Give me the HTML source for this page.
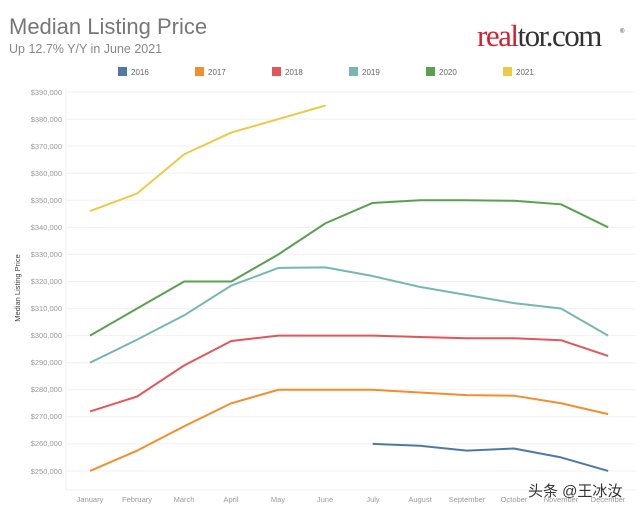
<!DOCTYPE html>
<html><head><meta charset="utf-8"><style>
body{margin:0;background:#fff;width:640px;height:512px;overflow:hidden;font-family:"Liberation Sans",sans-serif}
</style></head><body>
<svg width="640" height="512" xmlns="http://www.w3.org/2000/svg" font-family="Liberation Sans, sans-serif">
<text x="9" y="34" font-size="22" fill="#777">Median Listing Price</text>
<text x="9" y="53" font-size="12.5" fill="#888">Up 12.7% Y/Y in June 2021</text>
<text x="477" y="46" font-size="31" font-family="Liberation Serif, serif" fill="#d6202f" letter-spacing="-1.5">real<tspan fill="#333">tor.com</tspan></text>
<text x="620" y="33" font-size="6" fill="#333">®</text>
<g font-size="8" fill="#666">
<rect x="118" y="67" width="9" height="9" fill="#4e79a7"/><text x="131" y="75">2016</text>
<rect x="195" y="67" width="9" height="9" fill="#f28e2b"/><text x="208" y="75">2017</text>
<rect x="272" y="67" width="9" height="9" fill="#e15759"/><text x="285" y="75">2018</text>
<rect x="349" y="67" width="9" height="9" fill="#76b7b2"/><text x="362" y="75">2019</text>
<rect x="426" y="67" width="9" height="9" fill="#59a14f"/><text x="439" y="75">2020</text>
<rect x="503" y="67" width="9" height="9" fill="#edc948"/><text x="516" y="75">2021</text>
</g>
<g stroke="#f0f0f0" stroke-width="1">
<line x1="66" x2="636" y1="92" y2="92"/><line x1="66" x2="636" y1="119.1" y2="119.1"/><line x1="66" x2="636" y1="146.1" y2="146.1"/><line x1="66" x2="636" y1="173.2" y2="173.2"/><line x1="66" x2="636" y1="200.3" y2="200.3"/><line x1="66" x2="636" y1="227.4" y2="227.4"/><line x1="66" x2="636" y1="254.4" y2="254.4"/><line x1="66" x2="636" y1="281.5" y2="281.5"/><line x1="66" x2="636" y1="308.6" y2="308.6"/><line x1="66" x2="636" y1="335.6" y2="335.6"/><line x1="66" x2="636" y1="362.7" y2="362.7"/><line x1="66" x2="636" y1="389.8" y2="389.8"/><line x1="66" x2="636" y1="416.8" y2="416.8"/><line x1="66" x2="636" y1="443.9" y2="443.9"/><line x1="66" x2="636" y1="471" y2="471"/>
<line x1="66" x2="66" y1="88" y2="490"/><line x1="66" x2="636" y1="490" y2="490"/>
</g>
<g font-size="7.5" fill="#999" text-anchor="end">
<text x="62" y="95">$390,000</text><text x="62" y="122">$380,000</text><text x="62" y="149">$370,000</text><text x="62" y="176">$360,000</text><text x="62" y="203">$350,000</text><text x="62" y="230">$340,000</text><text x="62" y="257">$330,000</text><text x="62" y="284">$320,000</text><text x="62" y="311">$310,000</text><text x="62" y="338">$300,000</text><text x="62" y="365">$290,000</text><text x="62" y="392">$280,000</text><text x="62" y="419">$270,000</text><text x="62" y="446">$260,000</text><text x="62" y="474">$250,000</text>
</g>
<text transform="translate(20,288) rotate(-90)" font-size="7.5" fill="#444" text-anchor="middle">Median Listing Price</text>
<g font-size="7.5" fill="#999" text-anchor="middle">
<text x="90" y="502">January</text><text x="137" y="502">February</text><text x="184" y="502">March</text><text x="231" y="502">April</text><text x="278" y="502">May</text><text x="325" y="502">June</text><text x="373" y="502">July</text><text x="420" y="502">August</text><text x="467" y="502">September</text><text x="514" y="502">October</text><text x="561" y="502">November</text><text x="608" y="502">December</text>
</g>
<g transform="matrix(47.1 0 0 -2.707 90 1147.7)" fill="none" stroke-width="2" stroke-linejoin="round">
<polyline vector-effect="non-scaling-stroke" stroke="#4e79a7" points="6,260 7,259.3 8,257.5 9,258.3 10,255 11,250"/>
<polyline vector-effect="non-scaling-stroke" stroke="#f28e2b" points="0,250 1,257.5 2,266.5 3,275 4,280 5,280 6,280 7,279 8,278 9,277.8 10,275 11,271"/>
<polyline vector-effect="non-scaling-stroke" stroke="#e15759" points="0,272 1,277.5 2,289 3,298 4,300 5,300 6,300 7,299.5 8,299 9,299 10,298.3 11,292.5"/>
<polyline vector-effect="non-scaling-stroke" stroke="#76b7b2" points="0,290 1,298.5 2,307.5 3,318.5 4,325 5,325.2 6,322 7,318 8,315 9,312 10,310 11,300"/>
<polyline vector-effect="non-scaling-stroke" stroke="#59a14f" points="0,300 1,310 2,320 3,320 4,330 5,341.5 6,349 7,350 8,350 9,349.8 10,348.5 11,340"/>
<polyline vector-effect="non-scaling-stroke" stroke="#edc948" points="0,346 1,352.5 2,367 3,375 4,380 5,385"/>
</g>
<text x="528" y="496" font-size="15" fill="#333" font-family="Liberation Sans, Noto Sans CJK SC, sans-serif">头条 @王冰汝</text>
</svg>
</body></html>
